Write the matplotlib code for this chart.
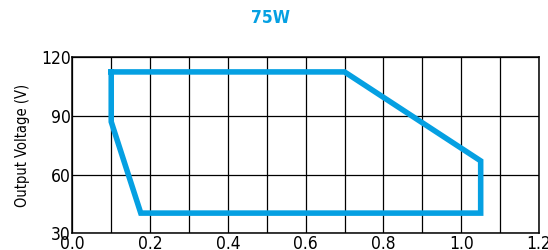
import numpy as np
import matplotlib
matplotlib.use("Agg")
import matplotlib.pyplot as plt

plt.rcParams['font.family'] = ['Liberation Sans Narrow', 'DejaVu Sans']
plt.rcParams['font.stretch'] = 'condensed'

# contour of the operating area (current A, voltage V)
current = [0.1, 0.7, 1.05, 1.05, 0.176, 0.1, 0.1]
voltage = [112.5, 112.5, 67, 40.3, 40.3, 87, 112.5]

xticks = [0.0, 0.2, 0.4, 0.6, 0.8, 1.0, 1.2]
yticks = [30, 60, 90, 120]
blue = "#05a0e2"

fig = plt.figure(figsize=(5.48, 2.5), dpi=100)
ax = fig.add_axes([0.132, 0.067, 0.8516, 0.704])

ax.plot(current, voltage, color=blue, lw=4.0, solid_joinstyle="miter", zorder=3)

ax.set_xlim(0, 1.2)
ax.set_ylim(30, 120)
ax.set_xticks(xticks)
ax.set_xticklabels(["%.1f" % t for t in xticks])
ax.set_xticks(np.arange(0.1, 1.2, 0.2), minor=True)
ax.set_yticks(yticks)
ax.grid(True, which="both", color="black", lw=0.9)
ax.tick_params(which="both", length=0, labelsize=12.5, pad=1)
for s in ax.spines.values():
    s.set_linewidth(1.1)

ax.set_ylabel("Output Voltage (V)", fontsize=10.5, labelpad=8)
fig.text(0.493, 0.928, "75W", color=blue, fontsize=12.5, fontweight="bold",
         ha="center", va="center")

fig.savefig("out.png", dpi=100)
